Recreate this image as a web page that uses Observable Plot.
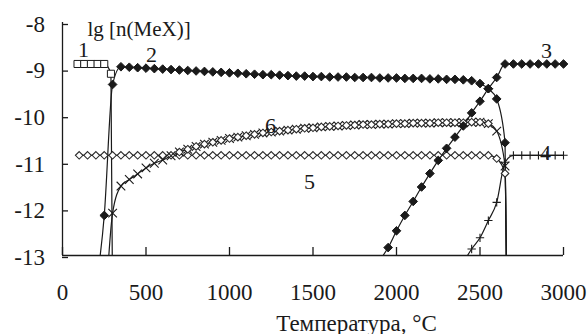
<!DOCTYPE html>
<html>
<head>
<meta charset="utf-8">
<script src="https://cdn.jsdelivr.net/npm/d3@7"></script>
<script src="https://cdn.jsdelivr.net/npm/@observablehq/plot@0.6"></script>
<style>
  html, body { margin: 0; padding: 0; background: #fff; }
  #chart svg { display: block; font-family: "Liberation Serif", "Times New Roman", serif !important; }
  #chart svg text { font-family: "Liberation Serif", "Times New Roman", serif !important; }
  #chart svg g[aria-label="x-axis tick label"], #chart svg g[aria-label="y-axis tick label"] { font-size: 23px; }
</style>
</head>
<body>
<div id="chart"></div>
<script>
// ---- Axis ticks ----
const X_TICKS = [0, 500, 1000, 1500, 2000, 2500, 3000];
const Y_TICKS = [-13, -12, -11, -10, -9, -8];
const Y_TITLE = "lg [n(MeX)]";
const X_TITLE = "Температура, °C";

// ---- Series 1 (open squares) ----
const s1T = [90, 130, 170, 210, 250, 290, 300];
const s1V = [-8.89, -8.89, -8.89, -8.89, -8.89, -9.1, -14];

// ---- Series 2 (filled diamonds, upper plateau) ----
const s2T = [200, 250, 300, 350, 400, 450, 500, 550, 600, 650, 700, 750, 800, 850, 900, 950,
  1000, 1050, 1100, 1150, 1200, 1250, 1300, 1350, 1400, 1450, 1500, 1550, 1600, 1650, 1700,
  1750, 1800, 1850, 1900, 1950, 2000, 2050, 2100, 2150, 2200, 2250, 2300, 2350, 2400, 2450,
  2500, 2550, 2600, 2650, 2660];
const s2V = [-13.7, -12.14, -9.33, -8.95, -8.96, -8.97, -8.98, -8.99, -9.00, -9.01, -9.02, -9.03,
  -9.04, -9.05, -9.06, -9.07, -9.08, -9.09, -9.10, -9.11, -9.12, -9.12, -9.13, -9.14, -9.15,
  -9.15, -9.16, -9.16, -9.17, -9.17, -9.17, -9.18, -9.18, -9.18, -9.19, -9.19, -9.19, -9.20,
  -9.20, -9.20, -9.21, -9.21, -9.22, -9.22, -9.23, -9.25, -9.31, -9.42, -9.64, -10.58, -14];

// ---- Series 3 (filled diamonds, rising) ----
const s3T = [1900, 1950, 2000, 2050, 2100, 2150, 2200, 2250, 2300, 2350, 2400, 2450, 2500,
  2550, 2600, 2650, 2700, 2750, 2800, 2850, 2900, 2950, 3000];
const s3V = [-13.1, -12.83, -12.47, -12.14, -11.84, -11.53, -11.24, -10.96, -10.70, -10.46,
  -10.22, -9.94, -9.69, -9.42, -9.18, -8.89, -8.89, -8.89, -8.89, -8.89, -8.89, -8.89, -8.89];

// ---- Series 4 (plus markers) ----
const s4T = [2400, 2450, 2500, 2550, 2600, 2650, 2700, 2750, 2800, 2850, 2900, 2950, 3000];
const s4V = [-13.15, -12.86, -12.62, -12.25, -11.86, -11.0, -10.85, -10.85, -10.85, -10.85,
  -10.85, -10.85, -10.85];

// ---- Series 5 (open diamonds, flat) ----
const s5T = [100, 150, 200, 250, 300, 350, 400, 450, 500, 550, 600, 650, 700, 750, 800, 850,
  900, 950, 1000, 1050, 1100, 1150, 1200, 1250, 1300, 1350, 1400, 1450, 1500, 1550, 1600, 1650,
  1700, 1750, 1800, 1850, 1900, 1950, 2000, 2050, 2100, 2150, 2200, 2250, 2300, 2350, 2400,
  2450, 2500, 2550, 2600, 2650, 2660];
const s5V = [-10.85, -10.85, -10.85, -10.85, -10.85, -10.85, -10.85, -10.85, -10.85, -10.85,
  -10.85, -10.85, -10.85, -10.85, -10.85, -10.85, -10.85, -10.85, -10.85, -10.85, -10.85,
  -10.85, -10.85, -10.85, -10.85, -10.85, -10.85, -10.85, -10.85, -10.85, -10.85, -10.85,
  -10.85, -10.85, -10.85, -10.85, -10.85, -10.85, -10.85, -10.85, -10.85, -10.85, -10.85,
  -10.85, -10.85, -10.85, -10.85, -10.85, -10.85, -10.85, -10.92, -11.24, -14];

// ---- Series 6 (crosses / open diamonds, rising curve) ----
const s6T = [250, 300, 350, 400, 450, 500, 550, 600, 650, 700, 750, 800, 850, 900, 950, 1000,
  1050, 1100, 1150, 1200, 1250, 1300, 1350, 1400, 1450, 1500, 1550, 1600, 1650, 1700, 1750,
  1800, 1850, 1900, 1950, 2000, 2050, 2100, 2150, 2200, 2250, 2300, 2350, 2400, 2450, 2500,
  2550, 2600, 2650, 2660];
const s6V = [-14.6, -12.09, -11.51, -11.37, -11.25, -11.12, -11.02, -10.95, -10.86, -10.78,
  -10.72, -10.66, -10.61, -10.57, -10.53, -10.49, -10.46, -10.43, -10.40, -10.37, -10.35,
  -10.33, -10.31, -10.29, -10.27, -10.26, -10.24, -10.23, -10.22, -10.21, -10.20, -10.19,
  -10.19, -10.18, -10.18, -10.17, -10.17, -10.16, -10.16, -10.16, -10.15, -10.15, -10.15,
  -10.15, -10.14, -10.14, -10.17, -10.33, -11.08, -14];

// ---- Curve number labels ----
const labelText = ["1", "2", "3", "4", "5", "6"];
const labelT = [126, 533, 2898, 2892, 1479, 1246];
const labelV = [-8.59, -8.70, -8.60, -10.79, -11.43, -10.21];

// ---- build ----
const rows = (T, V) => T.map((t, i) => ({t, v: V[i]}));
const inDomain = d => d.v >= -13 && d.v <= -8;
const ink = "#1a1a1a";
const FONT = "Liberation Serif, Times New Roman, serif";

const d1 = rows(s1T, s1V), d2 = rows(s2T, s2V), d3r = rows(s3T, s3V),
      d4 = rows(s4T, s4V), d5 = rows(s5T, s5V), d6 = rows(s6T, s6V);
const labels = labelText.map((s, i) => ({s, t: labelT[i], v: labelV[i]}));

const line = data => Plot.line(data, {x: "t", y: "v", curve: "monotone-x", stroke: ink, strokeWidth: 1.2, clip: true});

const chart = Plot.plot({
  width: 588,
  height: 334,
  marginLeft: 62,
  marginRight: 25,
  marginTop: 22,
  marginBottom: 79,
  style: {fontFamily: FONT, fontSize: "23px", color: ink, background: "#fff"},
  x: {domain: [0, 3000]},
  y: {domain: [-13, -8]},
  marks: [
    Plot.axisX({ticks: X_TICKS, tickSize: -8, tickPadding: 36.5, tickFormat: d => String(d), label: null, stroke: ink, strokeWidth: 1.3, fontSize: 23, fontFamily: FONT}),
    Plot.axisY({ticks: Y_TICKS, tickSize: -6, tickPadding: 23.5, tickFormat: d => String(d), label: null, stroke: ink, strokeWidth: 1.3, fontSize: 23, fontFamily: FONT, dy: 2}),
    Plot.ruleY([-13], {stroke: ink, strokeWidth: 1.3}),
    Plot.ruleX([0], {stroke: ink, strokeWidth: 1.3}),
    line(d5), line(d6), line(d4), line(d1), line(d2), line(d3r),
    Plot.dot(d5.filter(inDomain), {x: "t", y: "v", symbol: "diamond2", r: 3.4, stroke: "#2a2a2a", fill: "white", strokeWidth: 1.1}),
    Plot.dot(d6.filter(inDomain), {x: "t", y: "v", symbol: "times", r: 4, stroke: ink, strokeWidth: 1.1}),
    Plot.dot(d6.filter(d => inDomain(d) && d.t >= 700 && d.t <= 2550), {x: "t", y: "v", symbol: "diamond2", r: 3.4, stroke: "#2a2a2a", fill: "white", strokeWidth: 1.1}),
    Plot.dot(d4.filter(inDomain), {x: "t", y: "v", symbol: "plus", r: 2.8, stroke: ink, strokeWidth: 1.1}),
    Plot.dot(d1.filter(inDomain), {x: "t", y: "v", symbol: "square2", r: 4.5, stroke: ink, fill: "white", strokeWidth: 1}),
    Plot.dot(d2.filter(inDomain), {x: "t", y: "v", symbol: "diamond2", r: 3.9, stroke: ink, fill: ink, strokeWidth: 1}),
    Plot.dot(d3r.filter(inDomain), {x: "t", y: "v", symbol: "diamond2", r: 3.9, stroke: ink, fill: ink, strokeWidth: 1}),
    Plot.text(labels, {x: "t", y: "v", text: "s", fontSize: 22, fontFamily: FONT, lineAnchor: "middle", fill: ink}),
    Plot.text([Y_TITLE], {frameAnchor: "top-left", textAnchor: "start", lineAnchor: "bottom", dx: 25, dy: 13, fontSize: 21, fontFamily: FONT, fill: ink}),
    Plot.text([X_TITLE], {frameAnchor: "bottom", textAnchor: "middle", lineAnchor: "bottom", dx: 43.5, dy: 75, fontSize: 23, fontFamily: FONT, fill: ink})
  ]
});
document.getElementById("chart").appendChild(chart);
</script>
</body>
</html>
